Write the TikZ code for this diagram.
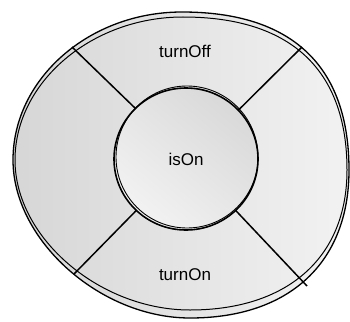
\documentclass[tikz,border=0pt]{standalone}
\usepackage{fontspec}
\setmainfont{Liberation Sans}
\usetikzlibrary{shapes.geometric}
\begin{document}
\begin{tikzpicture}[x=1pt,y=-1pt,inner sep=0pt,outer sep=0pt,thick,
rim/.style={draw,line width=1.3pt,left color=black!16,right color=black!5},
hub/.style={draw,ellipse,minimum width=144pt,minimum height=142pt,top color=black!15,bottom color=black!5,shading angle=-40,line width=1.6pt,font=\fontsize{17}{20}\selectfont},
spoke/.style={line width=1.5pt},
sector/.style={font=\fontsize{17}{20}\selectfont}]
\useasboundingbox (0,0) rectangle (350,321);
% outer body, drawn twice for the sketchy look
\draw[rim] (349,170) .. controls (349,66) and (292,12) .. (182,12)
  .. controls (89,12) and (13,79) .. (13,160)
  .. controls (13,240) and (100,318) .. (190,318)
  .. controls (290,318) and (349,262) .. cycle;
\draw[line width=1pt] (347,170) .. controls (347,69) and (290,17) .. (183,17)
  .. controls (92,17) and (15,82) .. (15,160)
  .. controls (15,238) and (100,310) .. (190,310)
  .. controls (286,310) and (347,259) .. cycle;
\coordinate (nw) at (72,47);
\coordinate (ne) at (302,47);
\coordinate (sw) at (74,274);
\coordinate (se) at (307,286);
\draw (186,159) node[hub] (isOn) {isOn};
\draw[line width=0.9pt] (187,157) ellipse [x radius=71, y radius=71];
\draw[spoke] (nw) -- (isOn.135);
\draw[spoke] (ne) -- (isOn.43);
\draw[spoke] (sw) -- (isOn.226);
\draw[spoke] (se) -- (isOn.314);
\draw (185,51) node[sector] (off) {turnOff};
\draw (185,275) node[sector] (on) {turnOn};
\end{tikzpicture}
\end{document}
